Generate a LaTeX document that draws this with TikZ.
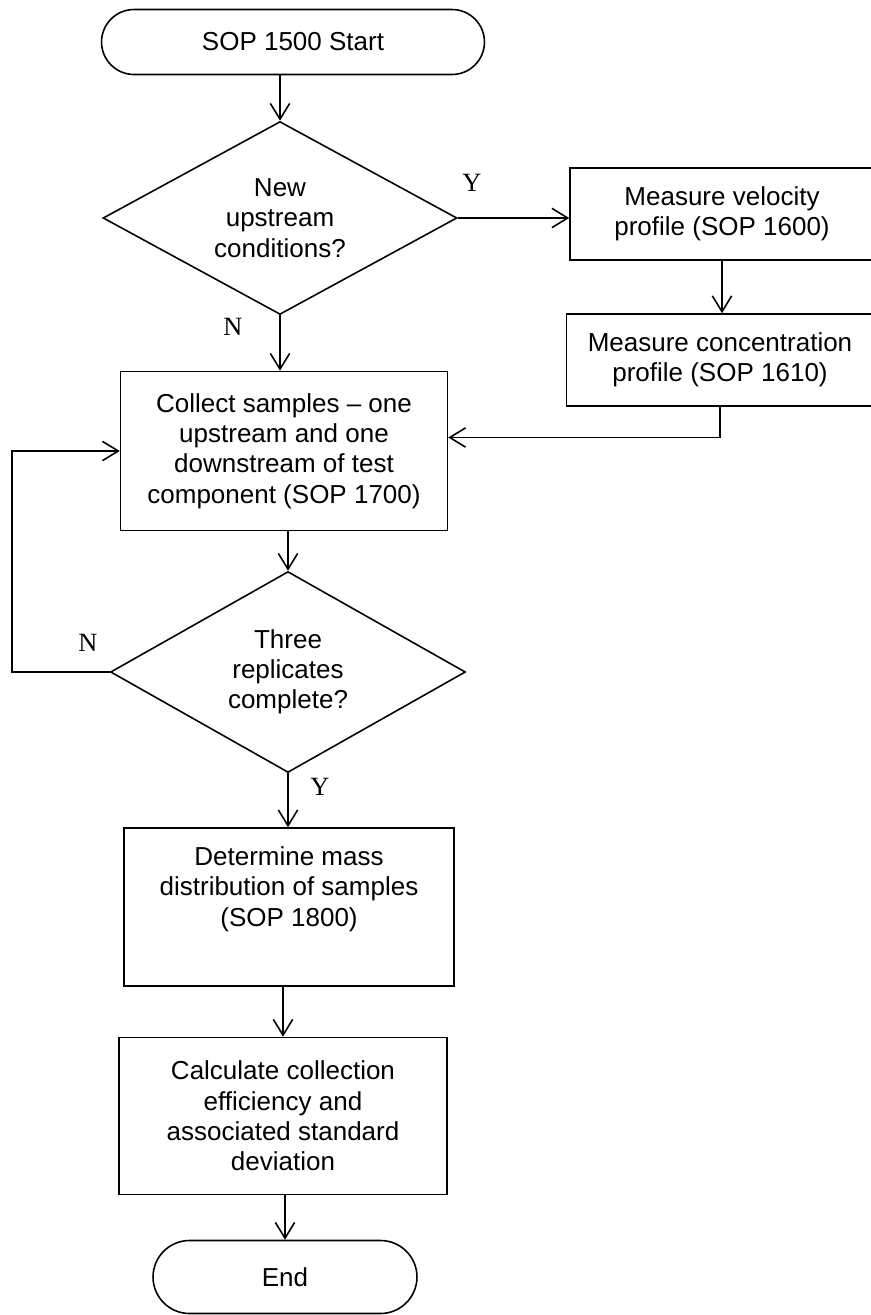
\documentclass[tikz,border=0pt]{standalone}
\usepackage{fontspec}
\setmainfont{Liberation Sans}
\newfontfamily\letrayn{Liberation Serif}
\usetikzlibrary{shapes.geometric,shapes.misc,arrows.meta}

\begin{document}
\begin{tikzpicture}[x = 0.02cm, y = -0.02cm, line width = 0.9pt,
every node/.style = {font = \fontsize{14.8}{17.2}\selectfont},
caja/.style = {draw, rectangle, align = center, inner sep = 0pt},
term/.style = {draw, rounded rectangle, inner sep = 0pt},
decision/.style = {draw, diamond, aspect = 1.8, align = center, inner sep = 0pt},
etiq/.style = {font = \letrayn\fontsize{15}{17}\selectfont},
flecha/.style = {-{Straight Barb[length = 9pt, width = 11pt]}}
]
\useasboundingbox (0,0) rectangle (871,1315);

% columna principal
\node[term, minimum width = 7.66cm, minimum height = 1.3cm] (inicio) at (293,42) {SOP 1500 Start};
\node[decision, minimum width = 7.08cm, minimum height = 3.86cm] (d1) at (280,218) {New\\upstream\\conditions?};
\node[caja, minimum width = 6.54cm, minimum height = 3.18cm] (colecta) at (284,451) {Collect samples – one\\upstream and one\\downstream of test\\component (SOP 1700)};
\node[decision, minimum width = 7.1cm, minimum height = 4.02cm] (d2) at (288,672) {Three\\replicates\\complete?};
\node[caja, minimum width = 6.6cm, text height = 1.96cm, text depth = 1.2cm] (masa) at (289,907) {Determine mass\\distribution of samples\\(SOP 1800)};
\node[caja, minimum width = 6.56cm, minimum height = 3.14cm] (calc) at (283,1116) {Calculate collection\\efficiency and\\associated standard\\deviation};
\node[term, minimum width = 5.28cm, minimum height = 1.46cm] (fin) at (285,1277) {End};

% rama de la derecha (se corta en el borde)
\node[caja, minimum width = 6.08cm, minimum height = 1.84cm] (vel) at (722,214) {Measure velocity\\profile (SOP 1600)};
\node[caja, minimum width = 6.14cm, minimum height = 1.84cm] (conc) at (720,360) {Measure concentration\\profile (SOP 1610)};

% Y / N
\node[etiq] (y1) at (472,183) {Y};
\node[etiq] (n1) at (233,327) {N};
\node[etiq] (n2) at (88,643) {N};
\node[etiq] (y2) at (320,787) {Y};

\draw[flecha] (d1.north |- inicio.south) -- (d1.north);
\draw[flecha] (d1.east) -- (d1.east -| vel.west);
\draw[flecha] (vel.south) -- (vel.south |- conc.north);
\draw[flecha] (conc.south) |- ([yshift = 0.27cm]colecta.east);
\draw[flecha] (d1.south) -- (d1.south |- colecta.north);
\draw[flecha] (d2.north |- colecta.south) -- (d2.north);
\draw[flecha] (d2.west) -- ++(-98,0) |- (colecta.west); % vuelta
\draw[flecha] (d2.south) -- (d2.south |- masa.north);
\draw[flecha] (calc.north |- masa.south) -- (calc.north);
\draw[flecha] (fin.north |- calc.south) -- (fin.north);
\end{tikzpicture}
\end{document}
